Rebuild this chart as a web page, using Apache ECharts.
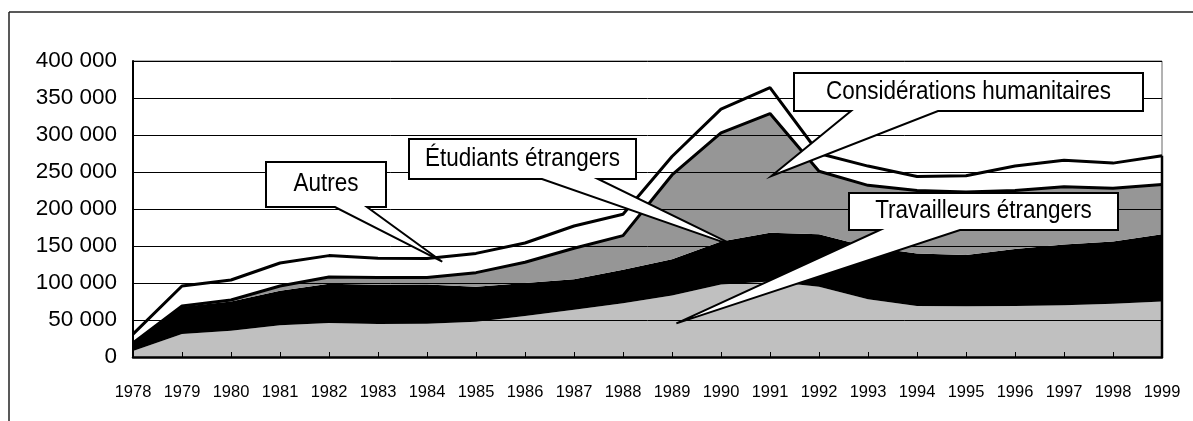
<!DOCTYPE html>
<html><head><meta charset="utf-8">
<script src="https://cdn.jsdelivr.net/npm/echarts@6.0.0/dist/echarts.min.js"></script>
<style>html,body{margin:0;padding:0;background:#fff}#c{width:1193px;height:421px}</style>
</head><body><div id="c"></div>
<script>
// ---- data ----
const years = ['1978','1979','1980','1981','1982','1983','1984','1985','1986','1987','1988',
               '1989','1990','1991','1992','1993','1994','1995','1996','1997','1998','1999'];
const travailleurs = [8000,31000,35500,43000,46000,44500,45000,47500,55500,64000,72500,
                      83000,98000,102000,95000,78000,69000,68500,69000,70000,72000,75000];
const etudiants    = [10000,37000,39500,46500,53000,53000,53000,47500,44500,41000,45500,
                      49000,58000,66000,71000,71000,71000,69500,77000,82000,84000,91000];
const humanitaires = [1000,1000,2000,6500,9000,10000,9500,19000,28000,42000,46000,
                      114000,147000,161000,85000,83000,85000,85000,79000,78000,72000,67000];
const autres       = [12000,27000,27000,31000,29000,26000,25500,26000,26000,30000,29000,
                      25000,32000,35000,24000,26000,19000,22000,33000,36000,34000,39000];
const yTicks = [0,50000,100000,150000,200000,250000,300000,350000,400000];
const yTickLabels = ['0','50 000','100 000','150 000','200 000','250 000','300 000','350 000','400 000'];
const calloutTexts = ['Autres','Étudiants étrangers','Considérations humanitaires','Travailleurs étrangers'];
// tip positions in data space: [category index (fractional), value]
const calloutTips = [[6.31,128800],[12.35,148200],[13.03,244600],[11.09,45500]];

// ---- layout ----
const FONT = '"Liberation Sans", Arial, sans-serif';
const calloutBoxes = [[266,162,386,207],[409,139,636,179],[794,73,1143,111],[849,193,1118,230]];
const calloutBases = [[335,367],[542,598],[851,938],[880,960]];

const chart = echarts.init(document.getElementById('c'), null, {renderer:'canvas'});

function areaSeries(name, data, color, lineW, z) {
  return {
    name, type:'line', stack:'total', data, symbol:'none', z, silent:true,
    lineStyle: lineW > 0 ? {width:lineW, color:'#000'} : {width:0, opacity:0},
    areaStyle: {color, opacity:1},
    itemStyle: {color},
    emphasis: {disabled:true}
  };
}

chart.setOption({
  animation:false,
  backgroundColor:'#fff',
  grid:{left:133, right:31, top:61, bottom:64, show:true, borderColor:'#666', borderWidth:1, containLabel:false},
  xAxis:{
    type:'category', data:years, boundaryGap:false,
    axisLine:{show:true, lineStyle:{color:'#000', width:2.5}},
    axisTick:{show:true, inside:true, length:5, lineStyle:{color:'#000', width:1}},
    axisLabel:{color:'#000', fontSize:16.5, fontFamily:FONT, margin:27, interval:0},
    splitLine:{show:false}, z:10
  },
  yAxis:{
    type:'value', min:0, max:400000, interval:50000,
    axisLine:{show:true, lineStyle:{color:'#000', width:2}},
    axisTick:{show:false},
    axisLabel:{color:'#000', fontSize:22.5, fontFamily:FONT, margin:16,
      formatter:v => yTickLabels[yTicks.indexOf(v)]},
    splitLine:{show:true, lineStyle:{color:'#000', width:1}}, z:10
  },
  series:[
    areaSeries('Travailleurs étrangers', travailleurs, '#c0c0c0', 0, 2),
    areaSeries('Étudiants étrangers', etudiants, '#000000', 0, 2),
    areaSeries('Considérations humanitaires', humanitaires, '#969696', 3, 4),
    areaSeries('Autres', autres, '#ffffff', 3, 3)
  ]
});

function toPx(xi, v) {
  const i0 = Math.min(Math.floor(xi), years.length - 2), f = xi - i0;
  const p0 = chart.convertToPixel({gridIndex:0}, [i0, v]);
  const p1 = chart.convertToPixel({gridIndex:0}, [i0 + 1, v]);
  return [p0[0] + (p1[0] - p0[0]) * f, p0[1]];
}

const graphics = [];
// outer frame
graphics.push({type:'line', shape:{x1:9, y1:12, x2:1193, y2:12}, style:{stroke:'#222', lineWidth:1.5}, z:50});
graphics.push({type:'line', shape:{x1:9, y1:12, x2:9, y2:421}, style:{stroke:'#222', lineWidth:1.5}, z:50});
// right edge of areas
const last = years.length - 1;
const total = travailleurs[last] + etudiants[last] + humanitaires[last] + autres[last];
const rb = chart.convertToPixel({gridIndex:0}, [last, 0]);
const rt = chart.convertToPixel({gridIndex:0}, [last, total]);
graphics.push({type:'line', shape:{x1:rb[0], y1:rb[1], x2:rt[0], y2:rt[1]}, style:{stroke:'#000', lineWidth:2.5}, z:50});

calloutTexts.forEach((t, k) => {
  const [x1, y1, x2, y2] = calloutBoxes[k];
  const [b1, b2] = calloutBases[k];
  const tip = toPx(calloutTips[k][0], calloutTips[k][1]);
  graphics.push({
    type:'polygon', z:100,
    shape:{points:[[x1,y1],[x2,y1],[x2,y2],[b2,y2],tip,[b1,y2],[x1,y2]]},
    style:{fill:'#fff', stroke:'#000', lineWidth:2, lineJoin:'miter'}
  });
  graphics.push({
    type:'text', z:101, x:(x1 + x2) / 2, y:(y1 + y2) / 2, scaleY:1.12,
    style:{text:t, font:'22.5px ' + FONT, fill:'#000',
      align:'center', verticalAlign:'middle', textAlign:'center', textVerticalAlign:'middle'}
  });
});

chart.setOption({graphic:graphics});
</script>
</body></html>
